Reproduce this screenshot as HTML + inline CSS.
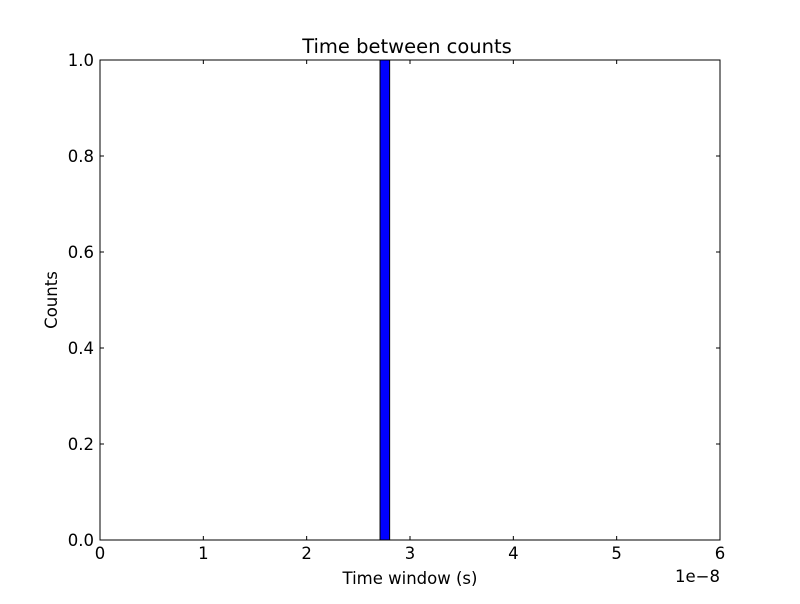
<!DOCTYPE html>
<html><head><meta charset="utf-8"><style>
body{margin:0;background:#fff;font-family:"DejaVu Sans","Liberation Sans",sans-serif;}
text{font-family:"DejaVu Sans","Liberation Sans",sans-serif;}
</style></head><body>
<svg width="800" height="600" xmlns="http://www.w3.org/2000/svg">
<rect width="800" height="600" fill="#fff"/>
<g id="plot"></g>
</svg>
<script>
const binStarts=[2.71];
const binWidths=[0.093];
const counts=[1];
const xTicks=[0,1,2,3,4,5,6];
const yTicks=[0.0,0.2,0.4,0.6,0.8,1.0];
const L=100,R=720,T=60,B=540;
const xs=v=>L+(v-0)/(6-0)*(R-L);
const ys=v=>B-(v-0)/(1-0)*(B-T);
const NS="http://www.w3.org/2000/svg";
const g=document.getElementById('plot');
function mk(t,a,txt){const e=document.createElementNS(NS,t);for(const k in a)e.setAttribute(k,a[k]);if(txt!==undefined)e.textContent=txt;g.appendChild(e);return e;}
binStarts.forEach((s,i)=>{
 const e=mk('rect',{x:xs(s),y:ys(counts[i]),width:xs(s+binWidths[i])-xs(s),height:ys(0)-ys(counts[i]),fill:'#0000ff',stroke:'#000','stroke-width':1});
 
 
});
const fr=mk('rect',{x:L,y:T,width:R-L,height:B-T,fill:'none',stroke:'#000','stroke-width':1});


xTicks.forEach(v=>{
 const x=xs(v);
 mk('line',{x1:x,y1:B,x2:x,y2:B-4,stroke:'#000'});
 mk('line',{x1:x,y1:T,x2:x,y2:T+4,stroke:'#000'});
 const t=mk('text',{x:x,y:B+19,'text-anchor':'middle','font-size':16.5},String(v));
 
 
});
yTicks.forEach(v=>{
 const y=ys(v);
 mk('line',{x1:L,y1:y,x2:L+4,y2:y,stroke:'#000'});
 mk('line',{x1:R,y1:y,x2:R-4,y2:y,stroke:'#000'});
 const t=mk('text',{x:L-6,y:y+6,'text-anchor':'end','font-size':16.5},v.toFixed(1));
 
 
});
let t;
t=mk('text',{x:407,y:53,'text-anchor':'middle','font-size':19.5},'Time between counts');


t=mk('text',{x:410,y:584,'text-anchor':'middle','font-size':16.5},'Time window (s)');


t=mk('text',{x:720,y:582,'text-anchor':'end','font-size':16.5},'1e\u22128');


t=mk('text',{x:57,y:300,'text-anchor':'middle','font-size':16.5,transform:'rotate(-90 57 300)'},'Counts');


</script>
</body></html>
